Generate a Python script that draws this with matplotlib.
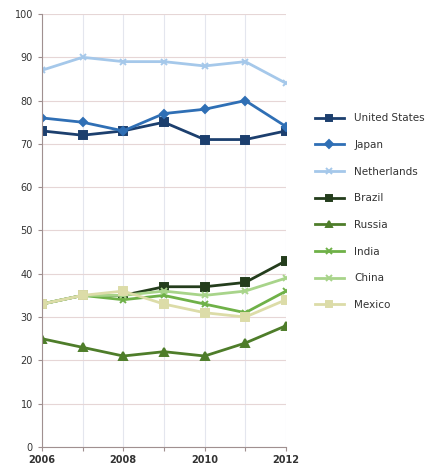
import matplotlib
matplotlib.use("Agg")
import matplotlib.pyplot as plt

years = [2006, 2007, 2008, 2009, 2010, 2011, 2012]
tick_years = [2006, 2008, 2010, 2012]

united_states = [73, 72, 73, 75, 71, 71, 73]
japan = [76, 75, 73, 77, 78, 80, 74]
netherlands = [87, 90, 89, 89, 88, 89, 84]
brazil = [33, 35, 35, 37, 37, 38, 43]
russia = [25, 23, 21, 22, 21, 24, 28]
india = [33, 35, 34, 35, 33, 31, 36]
china = [33, 35, 35, 36, 35, 36, 39]
mexico = [33, 35, 36, 33, 31, 30, 34]

series = [
    ("United States", united_states, "#1c3f6e", "s", 5.5),
    ("Japan", japan, "#2f6fb5", "D", 4.5),
    ("Netherlands", netherlands, "#a5c8ea", "x", 5),
    ("Brazil", brazil, "#243d1c", "s", 5.5),
    ("Russia", russia, "#4e7d2a", "^", 5.5),
    ("India", india, "#6fb148", "x", 5),
    ("China", china, "#a8d48a", "x", 5),
    ("Mexico", mexico, "#dcdca8", "s", 5.5),
]

fig = plt.figure(figsize=(4.36, 4.67), dpi=100)
ax = fig.add_axes([0.096, 0.043, 0.56, 0.927])

for name, vals, color, marker, ms in series:
    ax.plot(years, vals, color=color, marker=marker, markersize=ms,
            linewidth=2.0, markeredgewidth=1.4, label=name)

ax.set_xlim(2006, 2012)
ax.set_ylim(0, 100)
ax.set_yticks(range(0, 101, 10))
ax.set_xticks(years)
ax.set_xticklabels([str(y) if y in tick_years else "" for y in years])
ax.grid(True, axis="y", color="#e6d6d6", linewidth=0.8)
ax.grid(True, axis="x", color="#e4e6ee", linewidth=0.8)
ax.set_axisbelow(True)
for side in ("top", "right"):
    ax.spines[side].set_visible(False)
ax.spines["left"].set_color("#a09090")
ax.spines["bottom"].set_color("#a09090")
ax.tick_params(axis="both", labelsize=7, colors="#a09090", labelcolor="#333333",
               length=3)
for lbl in ax.get_xticklabels():
    lbl.set_fontweight("bold")
ax.tick_params(axis="x", pad=3)

leg = ax.legend(loc="upper left", bbox_to_anchor=(1.1, 0.78), frameon=False,
                fontsize=7.5, labelspacing=1.6, handlelength=2.8,
                handletextpad=1.0, borderaxespad=0, markerscale=0.8,
                labelcolor="#333333")

fig.savefig("out.png", dpi=100)
